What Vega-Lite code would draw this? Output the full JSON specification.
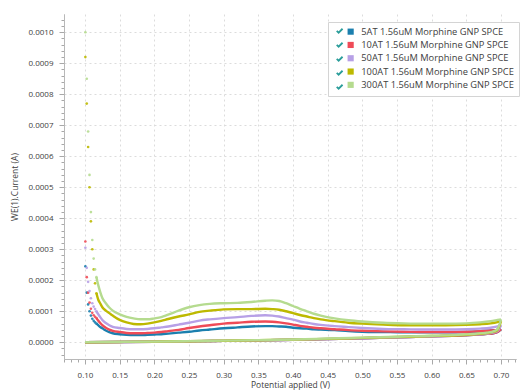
{
  "$schema": "https://vega.github.io/schema/vega-lite/v6.json",
  "width": 452,
  "height": 345,
  "autosize": "none",
  "padding": {"left": 64, "top": 14, "right": 9, "bottom": 31},
  "background": "white",
  "config": {
    "font": "Open Sans",
    "view": {"stroke": null},
    "axis": {
      "labelFont": "Open Sans",
      "titleFont": "Open Sans",
      "labelColor": "#404040",
      "titleColor": "#404040",
      "labelFontSize": 8,
      "titleFontSize": 8.5,
      "titleFontWeight": "normal",
      "domainColor": "#b8b8b8",
      "tickColor": "#a8a8a8",
      "gridColor": "#dcdcdc",
      "gridDash": [2, 3]
    },
    "legend": {"labelFont": "Open Sans"}
  },
  "data": {
    "values": [
      {"scan": "forward", "v": 0.1005, "5AT": 2.45e-4, "10AT": 3.25e-4, "50AT": 3.05e-4, "100AT": 9.2e-4, "300AT": 1.0e-3},
      {"scan": "forward", "v": 0.1025, "5AT": 1.6e-4, "10AT": 2.1e-4, "50AT": 2.4e-4, "100AT": 7.7e-4, "300AT": 8.5e-4},
      {"scan": "forward", "v": 0.1045, "5AT": 1.22e-4, "10AT": 1.6e-4, "50AT": 1.95e-4, "100AT": 6.3e-4, "300AT": 6.8e-4},
      {"scan": "forward", "v": 0.1065, "5AT": 1.0e-4, "10AT": 1.28e-4, "50AT": 1.65e-4, "100AT": 5.0e-4, "300AT": 5.4e-4},
      {"scan": "forward", "v": 0.1085, "5AT": 8.6e-5, "10AT": 1.08e-4, "50AT": 1.42e-4, "100AT": 3.9e-4, "300AT": 4.2e-4},
      {"scan": "forward", "v": 0.1105, "5AT": 7.6e-5, "10AT": 9.5e-5, "50AT": 1.26e-4, "100AT": 3.0e-4, "300AT": 3.3e-4},
      {"scan": "forward", "v": 0.1125, "5AT": 6.9e-5, "10AT": 8.7e-5, "50AT": 1.15e-4, "100AT": 2.35e-4, "300AT": 2.7e-4},
      {"scan": "forward", "v": 0.1145, "5AT": 6.4e-5, "10AT": 8.2e-5, "50AT": 1.07e-4, "100AT": 1.9e-4, "300AT": 2.35e-4},
      {"scan": "forward", "v": 0.1165, "5AT": 6.0e-5, "10AT": 7.8e-5, "50AT": 1.0e-4, "100AT": 1.58e-4, "300AT": 2.1e-4},
      {"scan": "forward", "v": 0.119, "5AT": 5.5e-5, "10AT": 7.0e-5, "50AT": 9.1e-5, "100AT": 1.38e-4, "300AT": 1.85e-4},
      {"scan": "forward", "v": 0.122, "5AT": 4.9e-5, "10AT": 6.2e-5, "50AT": 8.1e-5, "100AT": 1.25e-4, "300AT": 1.62e-4},
      {"scan": "forward", "v": 0.125, "5AT": 4.5e-5, "10AT": 5.5e-5, "50AT": 7.2e-5, "100AT": 1.13e-4, "300AT": 1.43e-4},
      {"scan": "forward", "v": 0.13, "5AT": 3.8e-5, "10AT": 4.7e-5, "50AT": 6.2e-5, "100AT": 1.02e-4, "300AT": 1.26e-4},
      {"scan": "forward", "v": 0.135, "5AT": 3.3e-5, "10AT": 4.1e-5, "50AT": 5.5e-5, "100AT": 9.4e-5, "300AT": 1.12e-4},
      {"scan": "forward", "v": 0.14, "5AT": 2.9e-5, "10AT": 3.7e-5, "50AT": 5.0e-5, "100AT": 8.6e-5, "300AT": 1.02e-4},
      {"scan": "forward", "v": 0.15, "5AT": 2.6e-5, "10AT": 3.3e-5, "50AT": 4.6e-5, "100AT": 7.2e-5, "300AT": 9.0e-5},
      {"scan": "forward", "v": 0.16, "5AT": 2.4e-5, "10AT": 3.0e-5, "50AT": 4.3e-5, "100AT": 6.4e-5, "300AT": 8.2e-5},
      {"scan": "forward", "v": 0.17, "5AT": 2.3e-5, "10AT": 2.9e-5, "50AT": 4.2e-5, "100AT": 5.9e-5, "300AT": 7.7e-5},
      {"scan": "forward", "v": 0.18, "5AT": 2.3e-5, "10AT": 2.9e-5, "50AT": 4.2e-5, "100AT": 5.8e-5, "300AT": 7.4e-5},
      {"scan": "forward", "v": 0.19, "5AT": 2.4e-5, "10AT": 3.0e-5, "50AT": 4.3e-5, "100AT": 6.0e-5, "300AT": 7.4e-5},
      {"scan": "forward", "v": 0.2, "5AT": 2.5e-5, "10AT": 3.1e-5, "50AT": 4.5e-5, "100AT": 6.4e-5, "300AT": 7.7e-5},
      {"scan": "forward", "v": 0.21, "5AT": 2.6e-5, "10AT": 3.3e-5, "50AT": 4.8e-5, "100AT": 6.9e-5, "300AT": 8.1e-5},
      {"scan": "forward", "v": 0.22, "5AT": 2.8e-5, "10AT": 3.6e-5, "50AT": 5.1e-5, "100AT": 7.5e-5, "300AT": 8.9e-5},
      {"scan": "forward", "v": 0.235, "5AT": 3.1e-5, "10AT": 4.0e-5, "50AT": 5.7e-5, "100AT": 8.3e-5, "300AT": 1.02e-4},
      {"scan": "forward", "v": 0.25, "5AT": 3.4e-5, "10AT": 4.6e-5, "50AT": 6.3e-5, "100AT": 9.0e-5, "300AT": 1.13e-4},
      {"scan": "forward", "v": 0.265, "5AT": 3.8e-5, "10AT": 5.1e-5, "50AT": 7.0e-5, "100AT": 9.8e-5, "300AT": 1.2e-4},
      {"scan": "forward", "v": 0.28, "5AT": 4.1e-5, "10AT": 5.5e-5, "50AT": 7.4e-5, "100AT": 1.02e-4, "300AT": 1.24e-4},
      {"scan": "forward", "v": 0.3, "5AT": 4.5e-5, "10AT": 6.0e-5, "50AT": 7.8e-5, "100AT": 1.06e-4, "300AT": 1.26e-4},
      {"scan": "forward", "v": 0.32, "5AT": 4.8e-5, "10AT": 6.3e-5, "50AT": 8.1e-5, "100AT": 1.07e-4, "300AT": 1.27e-4},
      {"scan": "forward", "v": 0.34, "5AT": 5.1e-5, "10AT": 6.6e-5, "50AT": 8.5e-5, "100AT": 1.07e-4, "300AT": 1.3e-4},
      {"scan": "forward", "v": 0.36, "5AT": 5.2e-5, "10AT": 6.7e-5, "50AT": 8.7e-5, "100AT": 1.08e-4, "300AT": 1.34e-4},
      {"scan": "forward", "v": 0.37, "5AT": 5.2e-5, "10AT": 6.6e-5, "50AT": 8.6e-5, "100AT": 1.07e-4, "300AT": 1.35e-4},
      {"scan": "forward", "v": 0.38, "5AT": 5.1e-5, "10AT": 6.4e-5, "50AT": 8.3e-5, "100AT": 1.05e-4, "300AT": 1.33e-4},
      {"scan": "forward", "v": 0.39, "5AT": 5.0e-5, "10AT": 6.1e-5, "50AT": 7.8e-5, "100AT": 1.0e-4, "300AT": 1.26e-4},
      {"scan": "forward", "v": 0.4, "5AT": 4.7e-5, "10AT": 5.7e-5, "50AT": 7.3e-5, "100AT": 9.4e-5, "300AT": 1.17e-4},
      {"scan": "forward", "v": 0.41, "5AT": 4.5e-5, "10AT": 5.3e-5, "50AT": 6.7e-5, "100AT": 8.8e-5, "300AT": 1.08e-4},
      {"scan": "forward", "v": 0.42, "5AT": 4.4e-5, "10AT": 5.0e-5, "50AT": 6.3e-5, "100AT": 8.3e-5, "300AT": 1.0e-4},
      {"scan": "forward", "v": 0.43, "5AT": 4.2e-5, "10AT": 4.7e-5, "50AT": 5.9e-5, "100AT": 7.8e-5, "300AT": 9.2e-5},
      {"scan": "forward", "v": 0.44, "5AT": 4.1e-5, "10AT": 4.5e-5, "50AT": 5.6e-5, "100AT": 7.4e-5, "300AT": 8.6e-5},
      {"scan": "forward", "v": 0.46, "5AT": 3.9e-5, "10AT": 4.2e-5, "50AT": 5.2e-5, "100AT": 6.8e-5, "300AT": 7.7e-5},
      {"scan": "forward", "v": 0.48, "5AT": 3.6e-5, "10AT": 3.9e-5, "50AT": 4.9e-5, "100AT": 6.3e-5, "300AT": 7.1e-5},
      {"scan": "forward", "v": 0.5, "5AT": 3.4e-5, "10AT": 3.7e-5, "50AT": 4.6e-5, "100AT": 6.0e-5, "300AT": 6.7e-5},
      {"scan": "forward", "v": 0.53, "5AT": 3.3e-5, "10AT": 3.5e-5, "50AT": 4.3e-5, "100AT": 5.7e-5, "300AT": 6.3e-5},
      {"scan": "forward", "v": 0.56, "5AT": 3.2e-5, "10AT": 3.4e-5, "50AT": 4.2e-5, "100AT": 5.5e-5, "300AT": 6.1e-5},
      {"scan": "forward", "v": 0.59, "5AT": 3.2e-5, "10AT": 3.3e-5, "50AT": 4.1e-5, "100AT": 5.5e-5, "300AT": 6.0e-5},
      {"scan": "forward", "v": 0.62, "5AT": 3.2e-5, "10AT": 3.3e-5, "50AT": 4.1e-5, "100AT": 5.5e-5, "300AT": 6.0e-5},
      {"scan": "forward", "v": 0.65, "5AT": 3.3e-5, "10AT": 3.4e-5, "50AT": 4.2e-5, "100AT": 5.6e-5, "300AT": 6.1e-5},
      {"scan": "forward", "v": 0.67, "5AT": 3.5e-5, "10AT": 3.6e-5, "50AT": 4.4e-5, "100AT": 5.8e-5, "300AT": 6.4e-5},
      {"scan": "forward", "v": 0.685, "5AT": 3.8e-5, "10AT": 3.8e-5, "50AT": 4.7e-5, "100AT": 6.1e-5, "300AT": 6.8e-5},
      {"scan": "forward", "v": 0.695, "5AT": 4.0e-5, "10AT": 4.0e-5, "50AT": 5.1e-5, "100AT": 6.5e-5, "300AT": 7.2e-5},
      {"scan": "forward", "v": 0.7, "5AT": 4.2e-5, "10AT": 4.2e-5, "50AT": 5.5e-5, "100AT": 6.8e-5, "300AT": 7.4e-5},
      {"scan": "reverse", "v": 0.7, "5AT": 4.2e-5, "10AT": 4.2e-5, "50AT": 5.5e-5, "100AT": 6.8e-5, "300AT": 7.4e-5},
      {"scan": "reverse", "v": 0.695, "5AT": 3.3e-5, "10AT": 3.3e-5, "50AT": 3.6e-5, "100AT": 4.0e-5, "300AT": 4.3e-5},
      {"scan": "reverse", "v": 0.69, "5AT": 3.0e-5, "10AT": 3.0e-5, "50AT": 3.2e-5, "100AT": 3.4e-5, "300AT": 3.6e-5},
      {"scan": "reverse", "v": 0.68, "5AT": 2.7e-5, "10AT": 2.7e-5, "50AT": 2.8e-5, "100AT": 3.0e-5, "300AT": 3.1e-5},
      {"scan": "reverse", "v": 0.66, "5AT": 2.4e-5, "10AT": 2.4e-5, "50AT": 2.5e-5, "100AT": 2.6e-5, "300AT": 2.7e-5},
      {"scan": "reverse", "v": 0.63, "5AT": 2.1e-5, "10AT": 2.1e-5, "50AT": 2.2e-5, "100AT": 2.2e-5, "300AT": 2.3e-5},
      {"scan": "reverse", "v": 0.6, "5AT": 1.9e-5, "10AT": 1.9e-5, "50AT": 1.9e-5, "100AT": 2.0e-5, "300AT": 2.1e-5},
      {"scan": "reverse", "v": 0.55, "5AT": 1.6e-5, "10AT": 1.6e-5, "50AT": 1.6e-5, "100AT": 1.7e-5, "300AT": 1.8e-5},
      {"scan": "reverse", "v": 0.5, "5AT": 1.3e-5, "10AT": 1.3e-5, "50AT": 1.3e-5, "100AT": 1.4e-5, "300AT": 1.5e-5},
      {"scan": "reverse", "v": 0.45, "5AT": 1.0e-5, "10AT": 1.0e-5, "50AT": 1.05e-5, "100AT": 1.1e-5, "300AT": 1.2e-5},
      {"scan": "reverse", "v": 0.4, "5AT": 8.0e-6, "10AT": 8.0e-6, "50AT": 8.0e-6, "100AT": 8.5e-6, "300AT": 9.0e-6},
      {"scan": "reverse", "v": 0.35, "5AT": 6.0e-6, "10AT": 6.0e-6, "50AT": 6.0e-6, "100AT": 6.5e-6, "300AT": 7.0e-6},
      {"scan": "reverse", "v": 0.3, "5AT": 4.5e-6, "10AT": 4.5e-6, "50AT": 4.6e-6, "100AT": 5.0e-6, "300AT": 5.2e-6},
      {"scan": "reverse", "v": 0.25, "5AT": 3.0e-6, "10AT": 3.0e-6, "50AT": 3.2e-6, "100AT": 3.5e-6, "300AT": 3.7e-6},
      {"scan": "reverse", "v": 0.2, "5AT": 1.8e-6, "10AT": 1.8e-6, "50AT": 1.9e-6, "100AT": 2.0e-6, "300AT": 2.2e-6},
      {"scan": "reverse", "v": 0.15, "5AT": 8.0e-7, "10AT": 8.0e-7, "50AT": 9.0e-7, "100AT": 1.0e-6, "300AT": 1.1e-6},
      {"scan": "reverse", "v": 0.1, "5AT": 1.0e-7, "10AT": 1.0e-7, "50AT": 1.0e-7, "100AT": 2.0e-7, "300AT": 3.0e-7}
    ]
  },
  "transform": [
    {"fold": ["5AT", "10AT", "50AT", "100AT", "300AT"], "as": ["series", "I"]}
  ],
  "layer": [
    {
      "transform": [{"filter": "datum.scan == 'forward' && datum.v < 0.117"}],
      "mark": {"type": "point", "shape": "circle", "filled": true, "size": 7, "opacity": 0.9},
      "encoding": {
        "x": {
          "field": "v", "type": "quantitative",
          "scale": {"domain": [0.0697, 0.7216], "nice": false, "zero": false},
          "axis": {
            "orient": "bottom",
            "title": "Potential applied (V)",
            "values": [0.1, 0.15, 0.2, 0.25, 0.3, 0.35, 0.4, 0.45, 0.5, 0.55, 0.6, 0.65, 0.7],
            "format": ".2f",
            "tickSize": 5,
            "labelPadding": 7,
            "titlePadding": 1,
            "grid": true
          }
        },
        "y": {
          "field": "I", "type": "quantitative",
          "scale": {"domain": [-0.000054, 0.001059], "nice": false, "zero": false},
          "axis": {
            "orient": "left",
            "title": "WE(1).Current (A)",
            "values": [0, 0.0001, 0.0002, 0.0003, 0.0004, 0.0005, 0.0006, 0.0007, 0.0008, 0.0009, 0.001],
            "format": ".4f",
            "tickSize": 5,
            "labelPadding": 6,
            "titlePadding": 9,
            "grid": true
          }
        },
        "color": {
          "field": "series", "type": "nominal",
          "scale": {
            "domain": ["5AT", "10AT", "50AT", "100AT", "300AT"],
            "range": ["#1b7fae", "#ef4b57", "#b7a0e6", "#bdb900", "#b5db8f"]
          },
          "legend": {
            "title": null,
            "orient": "none",
            "legendX": 264,
            "legendY": 8,
            "zindex": 1,
            "symbolType": "square",
            "symbolSize": 38,
            "symbolStrokeWidth": 0,
            "symbolOpacity": 1,
            "symbolOffset": 13,
            "labelExpr": "datum.label + ' 1.56uM Morphine GNP SPCE'",
            "labelFontSize": 9.3,
            "labelLimit": 300,
            "labelColor": "#404040",
            "labelOffset": 6,
            "rowPadding": 3.3,
            "padding": 5,
            "strokeColor": "#d4d4d4",
            "fillColor": "white"
          }
        }
      }
    },
    {
      "transform": [{"filter": "datum.scan == 'reverse' || datum.v >= 0.1165"}],
      "mark": {"type": "line", "strokeWidth": 2.4, "interpolate": "monotone"},
      "encoding": {
        "x": {"field": "v", "type": "quantitative", "axis": null},
        "y": {"field": "I", "type": "quantitative", "axis": null},
        "color": {
          "field": "series", "type": "nominal",
          "scale": {
            "domain": ["5AT", "10AT", "50AT", "100AT", "300AT"],
            "range": ["#1b7fae", "#ef4b57", "#b7a0e6", "#bdb900", "#b5db8f"]
          },
          "legend": null
        },
        "detail": {"field": "scan"}
      }
    },
    {
      "transform": [{"filter": "datum.scan == 'forward' && datum.v == 0.7"}],
      "mark": {"type": "point", "opacity": 0},
      "encoding": {
        "x": {
          "field": "v", "type": "quantitative",
          "axis": {
            "orient": "bottom",
            "title": null,
            "labels": false,
            "grid": false,
            "domain": true,
            "tickSize": 3,
            "values": [0.07, 0.08, 0.09, 0.11, 0.12, 0.13, 0.14, 0.16, 0.17, 0.18, 0.19, 0.21, 0.22, 0.23, 0.24, 0.26, 0.27, 0.28, 0.29, 0.31, 0.32, 0.33, 0.34, 0.36, 0.37, 0.38, 0.39, 0.41, 0.42, 0.43, 0.44, 0.46, 0.47, 0.48, 0.49, 0.51, 0.52, 0.53, 0.54, 0.56, 0.57, 0.58, 0.59, 0.61, 0.62, 0.63, 0.64, 0.66, 0.67, 0.68, 0.69, 0.71, 0.72]
          }
        },
        "y": {
          "field": "I", "type": "quantitative",
          "axis": {
            "orient": "left",
            "title": null,
            "labels": false,
            "grid": false,
            "domain": true,
            "tickSize": 3,
            "values": [-0.00004, -0.00002, 0.00002, 0.00004, 0.00006, 0.00008, 0.00012, 0.00014, 0.00016, 0.00018, 0.00022, 0.00024, 0.00026, 0.00028, 0.00032, 0.00034, 0.00036, 0.00038, 0.00042, 0.00044, 0.00046, 0.00048, 0.00052, 0.00054, 0.00056, 0.00058, 0.00062, 0.00064, 0.00066, 0.00068, 0.00072, 0.00074, 0.00076, 0.00078, 0.00082, 0.00084, 0.00086, 0.00088, 0.00092, 0.00094, 0.00096, 0.00098, 0.00102, 0.00104]
          }
        }
      }
    },
    {
      "transform": [{"filter": "datum.scan == 'forward' && datum.v == 0.7"}],
      "mark": {"type": "point", "opacity": 0, "filled": false},
      "encoding": {
        "x": {"field": "v", "type": "quantitative", "axis": null},
        "y": {"field": "I", "type": "quantitative", "axis": null},
        "color": {
          "field": "series", "type": "nominal",
          "scale": {
            "domain": ["5AT", "10AT", "50AT", "100AT", "300AT"],
            "range": ["#2a9d9a", "#2a9d9a", "#2a9d9a", "#2a9d9a", "#2a9d9a"]
          },
          "legend": {
            "title": null,
            "orient": "none",
            "legendX": 266,
            "legendY": 7,
            "zindex": 2,
            "symbolType": "M-1,0.05L-0.35,0.7L1,-0.65",
            "symbolSize": 34,
            "symbolStrokeWidth": 1.8,
            "symbolOpacity": 1,
            "symbolFillColor": "transparent",
            "labelExpr": "'x'",
            "labelOpacity": 0,
            "labelFontSize": 9.3,
            "rowPadding": 2,
            "padding": 5
          }
        }
      }
    }
  ],
  "resolve": {
    "scale": {"color": "independent"},
    "axis": {"x": "independent", "y": "independent"}
  }
}
